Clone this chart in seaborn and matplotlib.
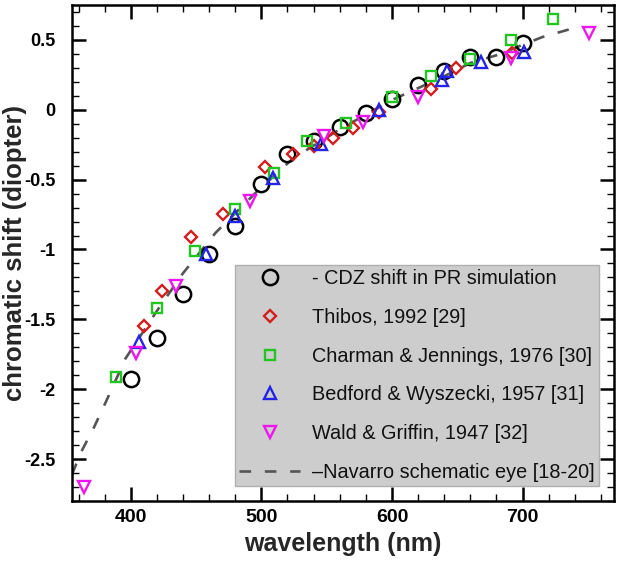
import numpy as np
import pandas as pd
import matplotlib
matplotlib.use("Agg")
import matplotlib.pyplot as plt
from matplotlib.ticker import MultipleLocator, FormatStrFormatter
import seaborn as sns

# ---- data ----
cdz_wl = [400, 420, 440, 460, 480, 500, 520, 540, 560, 580, 600, 620, 640, 660, 680, 700]
cdz_val = [-1.93, -1.63, -1.32, -1.03, -0.83, -0.53, -0.32, -0.22, -0.12, -0.02,
           0.08, 0.18, 0.28, 0.38, 0.38, 0.48]

thibos_wl = [410, 424, 446, 471, 503, 524, 540, 555, 570, 590, 630, 649, 692]
thibos_val = [-1.55, -1.30, -0.91, -0.745, -0.41, -0.315, -0.26, -0.205, -0.13,
              -0.015, 0.15, 0.30, 0.405]

charman_wl = [389, 420, 449, 480, 510, 535, 565, 600, 630, 660, 691, 723]
charman_val = [-1.91, -1.42, -1.01, -0.71, -0.45, -0.22, -0.095, 0.09, 0.245,
               0.365, 0.50, 0.65]

bedford_wl = [406, 458, 480, 509, 546, 590, 638, 642, 668, 701]
bedford_val = [-1.66, -1.03, -0.76, -0.49, -0.245, 0.0, 0.21, 0.275, 0.34, 0.41]

wald_wl = [364, 404, 435, 491, 548, 578, 620, 691, 751]
wald_val = [-2.70, -1.74, -1.26, -0.655, -0.19, -0.09, 0.09, 0.37, 0.55]

navarro_wl = [355, 362, 372, 381, 396, 420, 440, 465, 495, 524, 560, 600, 640,
              660, 680, 715, 745]
navarro_val = [-2.61, -2.45, -2.27, -2.09, -1.78, -1.44, -1.17, -0.88, -0.60,
               -0.35, -0.14, 0.07, 0.24, 0.335, 0.39, 0.52, 0.60]

labels = ["- CDZ shift in PR simulation", "Thibos, 1992 [29]",
          "Charman & Jennings, 1976 [30]", "Bedford & Wyszecki, 1957 [31]",
          "Wald & Griffin, 1947 [32]", "\u2013Navarro schematic eye [18-20]"]
xticks = [400, 500, 600, 700]
yticks = [-2.5, -2, -1.5, -1, -0.5, 0, 0.5]

# ---- style ----
sns.set_style("ticks")
plt.rcParams["font.family"] = ["Liberation Sans", "DejaVu Sans"]
plt.rcParams["axes.unicode_minus"] = False

fig = plt.figure(figsize=(6.21, 5.61), dpi=100)
ax = fig.add_axes([0.1159, 0.1070, 0.8728, 0.8841])

sns.lineplot(x=navarro_wl, y=navarro_val, ax=ax, color="#555555", lw=1.9,
             linestyle=(0, (4.4, 5.2)), estimator=None, sort=False, label=labels[5],
             legend=False)

series = [
    (cdz_wl, cdz_val, "o", "black", 11, 1.8, labels[0]),
    (thibos_wl, thibos_val, "D", "#d41e1e", 6.3, 1.7, labels[1]),
    (charman_wl, charman_val, "s", "#22c522", 7.0, 1.7, labels[2]),
    (bedford_wl, bedford_val, "^", "#2424e8", 8.0, 1.7, labels[3]),
    (wald_wl, wald_val, "v", "#ee16ee", 8.0, 1.7, labels[4]),
]
for wl, val, mk, col, ms, mew, lab in series:
    sns.lineplot(x=wl, y=val, ax=ax, linestyle="none", marker=mk, ms=ms,
                 mfc="none", mec=col, mew=mew, color=col, estimator=None,
                 sort=False, label=lab, legend=False)

ax.set_xlim(355, 770)
ax.set_ylim(-2.8, 0.75)
ax.set_xticks(xticks)
ax.set_yticks(yticks)
ax.xaxis.set_minor_locator(MultipleLocator(20))
ax.yaxis.set_minor_locator(MultipleLocator(0.1))
ax.yaxis.set_major_formatter(FormatStrFormatter("%g"))

for s in ax.spines.values():
    s.set_linewidth(1.8)
    s.set_color("black")
    s.set_visible(True)
ax.tick_params(which="both", direction="in", top=True, right=True, colors="black")
ax.tick_params(which="major", length=10, width=1.8)
ax.tick_params(which="minor", length=5, width=1.0)
ax.tick_params(axis="x", which="major", pad=6, labelsize=14)
ax.tick_params(axis="y", which="major", pad=12, labelsize=13)
for t in ax.get_xticklabels() + ax.get_yticklabels():
    t.set_fontweight("bold")

ax.set_xlabel("wavelength (nm)", fontsize=18, fontweight="bold")
ax.set_ylabel("chromatic shift (diopter)", fontsize=18.5, fontweight="bold")
ax.yaxis.set_label_coords(-0.083, 0.5)
ax.xaxis.set_label_coords(0.5, -0.063)

handles, labs = ax.get_legend_handles_labels()
order = [labs.index(l) for l in labels]
leg = ax.legend([handles[i] for i in order], [labs[i] for i in order],
                loc="lower right", bbox_to_anchor=(0.972, 0.030),
                borderaxespad=0, fontsize=14.3, frameon=True, fancybox=False,
                facecolor="#cdcdcd", edgecolor="#b0b0b0", framealpha=1,
                handlelength=3.1, handletextpad=0.6, labelspacing=1.0,
                borderpad=0.2)
leg.get_frame().set_linewidth(1.0)
for txt in leg.get_texts():
    txt.set_color("#111111")

fig.savefig("out.png", dpi=100)
